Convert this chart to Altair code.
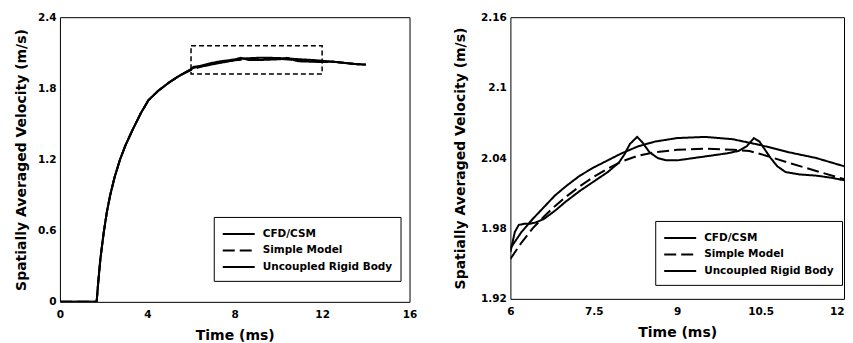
import altair as alt
import pandas as pd

SERIES = ["CFD/CSM", "Simple Model", "Uncoupled Rigid Body"]

# ---- zoomed window (right panel), 6-12 ms ----
cfd_t = [6.0, 6.08, 6.15, 6.25, 6.35, 6.45, 6.6, 6.8, 7.0, 7.25, 7.5, 7.75, 7.95, 8.05, 8.15, 8.28,
         8.38, 8.5, 8.65, 8.8, 9.0, 9.3, 9.6, 9.9, 10.1, 10.25, 10.38, 10.48, 10.58, 10.68, 10.8,
         10.95, 11.2, 11.5, 11.8, 12.0]
cfd_v = [1.960, 1.977, 1.983, 1.984, 1.984, 1.985, 1.988, 1.995, 2.003, 2.012, 2.020, 2.028, 2.036,
         2.043, 2.052, 2.058, 2.053, 2.045, 2.040, 2.038, 2.038, 2.040, 2.042, 2.044, 2.046, 2.050,
         2.057, 2.054, 2.047, 2.040, 2.033, 2.028, 2.026, 2.025, 2.023, 2.021]

simple_t = [6.0, 6.2, 6.4, 6.6, 6.8, 7.0, 7.25, 7.5, 7.75, 8.0, 8.3, 8.6, 9.0, 9.5, 10.0, 10.3,
            10.6, 11.0, 11.5, 12.0]
simple_v = [1.954, 1.968, 1.980, 1.990, 1.999, 2.007, 2.016, 2.024, 2.031, 2.037, 2.042, 2.045,
            2.047, 2.048, 2.047, 2.046, 2.042, 2.036, 2.029, 2.022]

rigid_t = [6.0, 6.2, 6.4, 6.6, 6.8, 7.0, 7.25, 7.5, 7.75, 8.0, 8.3, 8.6, 9.0, 9.5, 10.0, 10.5,
           11.0, 11.5, 12.0]
rigid_v = [1.963, 1.977, 1.988, 1.998, 2.008, 2.016, 2.025, 2.032, 2.038, 2.044, 2.050, 2.054,
           2.057, 2.058, 2.056, 2.051, 2.045, 2.040, 2.033]

# ---- full-range (left panel) common rise and tail ----
rise_t = [0.0, 1.68, 1.75, 1.85, 2.0, 2.15, 2.3, 2.5, 2.75, 3.0, 3.35, 3.7, 4.05, 4.5, 5.0, 5.5]
rise_v = [0.0, 0.0, 0.16, 0.36, 0.58, 0.76, 0.90, 1.05, 1.20, 1.32, 1.46, 1.59, 1.70, 1.78, 1.85, 1.91]
tail_t = [12.5, 13.0, 13.5, 14.0]
tail_v = [2.025, 2.015, 2.005, 2.000]

# zoom box drawn on the left panel
box_t = [6.0, 12.0]
box_v = [1.92, 2.16]

left_x_ticks = [0, 4, 8, 12, 16]
left_y_ticks = [0, 0.6, 1.2, 1.8, 2.4]
right_x_ticks = [6, 7.5, 9, 10.5, 12]
right_y_ticks = [1.92, 1.98, 2.04, 2.1, 2.16]

zoom_data = {SERIES[0]: (cfd_t, cfd_v), SERIES[1]: (simple_t, simple_v), SERIES[2]: (rigid_t, rigid_v)}

rows_r, rows_l = [], []
for s, (ts, vs) in zoom_data.items():
    for t, v in zip(ts, vs):
        rows_r.append({"t": t, "v": v, "series": s})
    for t, v in zip(rise_t + ts + tail_t, rise_v + vs + tail_v):
        rows_l.append({"t": t, "v": v, "series": s})
df_r = pd.DataFrame(rows_r)
df_l = pd.DataFrame(rows_l)
df_box = pd.DataFrame({"t": [box_t[0]], "t2": [box_t[1]], "v": [box_v[0]], "v2": [box_v[1]]})

FONT = "DejaVu Sans"
YTITLE = "Spatially Averaged Velocity (m/s)"


def legend(lx, ly):
    return alt.Legend(
        title=None, orient="none", legendX=lx, legendY=ly, direction="vertical",
        strokeColor="black", fillColor="white", padding=8, cornerRadius=0,
        symbolType="M-2,0L2,0", symbolSize=256, symbolStrokeWidth=2, symbolStrokeColor="black",
        symbolOffset=8,
        labelFont=FONT, labelFontWeight="bold", labelFontSize=10.5, labelColor="black",
        labelOffset=15, rowPadding=1.5,
    )


def lines(df, xdom, xvals, ydom, yvals, ytp, lx, ly, xalign):
    return alt.Chart(df).mark_line(strokeWidth=2, color="black", clip=True).encode(
        x=alt.X("t:Q", scale=alt.Scale(domain=xdom, nice=False, zero=False),
                axis=alt.Axis(values=xvals, format=".3~g", title="Time (ms)", labelFlush=False,
                              labelOverlap=False, labelAlign=xalign, labelPadding=7.5,
                              titlePadding=8.5)),
        y=alt.Y("v:Q", scale=alt.Scale(domain=ydom, nice=False, zero=False),
                axis=alt.Axis(values=yvals, format=".3~g", title=YTITLE, labelFlush=False,
                              labelOverlap=False, labelPadding=4, titlePadding=ytp)),
        strokeDash=alt.StrokeDash("series:N",
                                  scale=alt.Scale(domain=SERIES, range=[[1, 0], [12, 5], [1, 0]]),
                                  legend=legend(lx, ly)),
    )


left_lines = lines(df_l, [0, 16], left_x_ticks, [0, 2.4], left_y_ticks, 9, 154, 200, "center")
box = alt.Chart(df_box).mark_rect(fillOpacity=0, stroke="black", strokeWidth=1.5,
                                  strokeDash=[5, 3]).encode(
    x="t:Q", x2="t2:Q", y="v:Q", y2="v2:Q")
left = alt.layer(left_lines, box).properties(width=350, height=285)

right_align = {"condition": {"test": "datum.value == 12", "value": "right"}, "value": "center"}
right = lines(df_r, [6, 12], right_x_ticks, [1.92, 2.16], right_y_ticks, 13, 145, 204,
              right_align).properties(width=334, height=282)

chart = alt.hconcat(left, right, spacing=35).resolve_legend(strokeDash="independent").properties(
    padding={"left": 5, "top": 3, "right": 0, "bottom": 0}
).configure_view(
    stroke="black", strokeWidth=1
).configure_axis(
    grid=False, ticks=False, domain=False,
    labelFont=FONT, labelFontWeight="bold", labelFontSize=10.5, labelColor="black",
    titleFont=FONT, titleFontWeight="bold", titleFontSize=14, titleColor="black",
)

chart.save("out.html", embed_options={"renderer": "svg", "actions": False})
